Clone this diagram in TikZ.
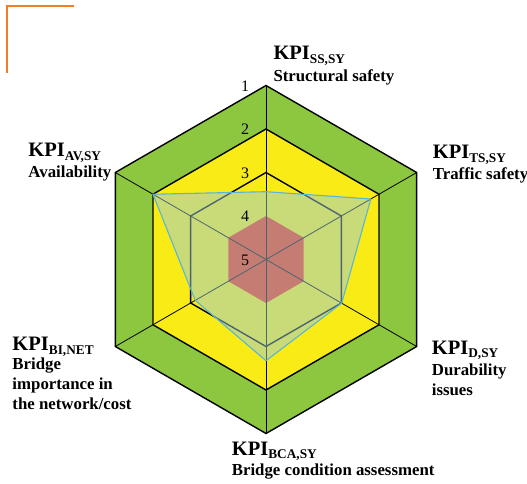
\documentclass[tikz,border=0pt]{standalone}
\usepackage{fontspec}
\setmainfont{Liberation Serif}
\usetikzlibrary{calc}
\definecolor{hexgreen}{RGB}{141,198,63}
\definecolor{hexyellow}{RGB}{248,235,22}
\definecolor{hexred}{RGB}{239,45,10}
\definecolor{polyfill}{RGB}{155,203,220}
\definecolor{polyline}{RGB}{90,180,215}
\definecolor{cornerorange}{RGB}{240,125,40}
\newcommand\kpisub[1]{\raisebox{-3.5bp}{\fontsize{13.3bp}{15bp}\selectfont #1}}
\begin{document}
\begin{tikzpicture}[x=1bp,y=-1bp,
  kpi/.style={font=\fontsize{20.5bp}{24bp}\selectfont\bfseries, inner sep=0pt, anchor=base west},
  desc/.style={font=\fontsize{16.8bp}{20bp}\selectfont\bfseries, inner sep=0pt, anchor=base west},
  num/.style={font=\fontsize{16bp}{18bp}\selectfont, inner sep=0pt},
  hexline/.style={draw=black, line width=1.4bp, line join=miter},
  spoke/.style={draw=black, line width=0.8bp},
  corner/.style={draw=cornerorange, line width=2bp}]
\useasboundingbox (0,0) rectangle (527,484);
% orange corner mark
\coordinate (O1) at (74,6);
\coordinate (O2) at (7,6);
\coordinate (O3) at (7,73);
\draw[corner] (O1) -- (O2) -- (O3);
% geometry
\coordinate (C) at (266,259.5);
\foreach \lev in {1,...,4}{
  \foreach \k in {0,...,5}{
    \coordinate (V\lev-\k) at ($(C)+({60*\k-90}:{(5-\lev)*43.5})$);
  }
}
\fill[hexgreen] (V1-0) -- (V1-1) -- (V1-2) -- (V1-3) -- (V1-4) -- (V1-5) -- cycle;
\fill[hexyellow] (V2-0) -- (V2-1) -- (V2-2) -- (V2-3) -- (V2-4) -- (V2-5) -- cycle;
\fill[hexred] (V4-0) -- (V4-1) -- (V4-2) -- (V4-3) -- (V4-4) -- (V4-5) -- cycle;
\foreach \k in {0,...,5}{ \draw[spoke] (C) -- (V1-\k); }
\foreach \lev in {1,2,3}{
  \draw[hexline] (V\lev-0) -- (V\lev-1) -- (V\lev-2) -- (V\lev-3) -- (V\lev-4) -- (V\lev-5) -- cycle;
}
% assessment polygon
\coordinate (P0) at ($(C)+(-90:67.8)$);
\coordinate (P1) at ($(C)+(-30:121)$);
\coordinate (P2) at ($(C)+(30:87.4)$);
\coordinate (P3) at ($(C)+(90:101.2)$);
\coordinate (P4) at ($(C)+(150:81.7)$);
\coordinate (P5) at ($(C)+(210:130.5)$);
\fill[polyfill, fill opacity=0.5] (P0) -- (P1) -- (P2) -- (P3) -- (P4) -- (P5) -- cycle;
\draw[polyline, line width=1.1bp, line join=round] (P0) -- (P1) -- (P2) -- (P3) -- (P4) -- (P5) -- cycle;
% scale numbers
\node[num] (n1) at (245,86) {1};
\node[num] (n2) at (245,129.5) {2};
\node[num] (n3) at (245,173) {3};
\node[num] (n4) at (245,216.5) {4};
\node[num] (n5) at (245,260) {5};
% labels
\node[kpi] (ssk) at (273.3,60) {KPI\kpisub{SS,SY}};
\node[desc] (ssd) at (273.3,81.7) {Structural safety};
\node[kpi] (tsk) at (432.7,159) {KPI\kpisub{TS,SY}};
\node[desc] (tsd) at (432.7,180) {Traffic safety};
\node[kpi] (avk) at (28.3,156.7) {KPI\kpisub{AV,SY}};
\node[desc] (avd) at (28.3,177.3) {Availability};
\node[kpi] (dk) at (431.7,354) {KPI\kpisub{D,SY}};
\node[desc] (dd1) at (431.7,375) {Durability};
\node[desc] (dd2) at (431.7,395) {issues};
\node[kpi] (bik) at (12.3,350.7) {KPI\kpisub{BI,NET}};
\node[desc] (bid1) at (12.3,369.5) {Bridge};
\node[desc] (bid2) at (12.3,389.5) {importance in};
\node[desc] (bid3) at (12.3,409.5) {the network/cost};
\node[kpi] (bcak) at (231.7,455) {KPI\kpisub{BCA,SY}};
\node[desc] (bcad) at (231.7,475.7) {Bridge condition assessment};
\end{tikzpicture}
\end{document}
